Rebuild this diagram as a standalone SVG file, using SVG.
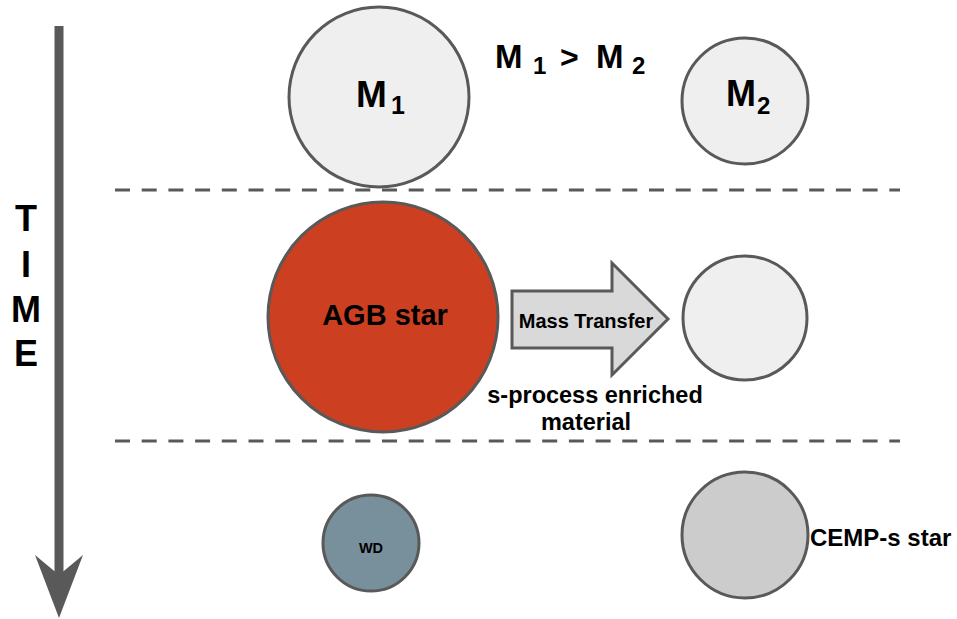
<svg xmlns="http://www.w3.org/2000/svg" width="957" height="619" viewBox="0 0 957 619">
<style>
text{font-family:"Liberation Sans",Arial,sans-serif;font-weight:bold;fill:#000}
.c{stroke:#595959;stroke-width:3}
.dash{stroke:#595959;stroke-width:3;stroke-dasharray:15 11.7;fill:none}
</style>
<rect width="957" height="619" fill="#fff"/>
<g id="time-axis">
<line x1="59" y1="26" x2="59" y2="575" stroke="#595959" stroke-width="9"/>
<path d="M35,555 L59,575 L83,555 L59,618 Z" fill="#595959"/>
<text x="26" y="231" font-size="36" text-anchor="middle">T</text>
<text x="26" y="277" font-size="36" text-anchor="middle">I</text>
<text x="26" y="322" font-size="36" text-anchor="middle">M</text>
<text x="26" y="366" font-size="36" text-anchor="middle">E</text>
</g>
<g id="connectors">
<line class="dash" x1="115" y1="190" x2="900" y2="190"/>
<line class="dash" x1="115" y1="441" x2="900" y2="441"/>
</g>
<g id="m1">
<circle class="c" cx="379" cy="97" r="90" fill="#efefef"/>
<text x="356" y="107" font-size="37">M</text>
<text x="391" y="114" font-size="25">1</text>
</g>
<g id="m2">
<circle class="c" cx="745" cy="101" r="63" fill="#efefef"/>
<text x="726" y="106" font-size="36">M</text>
<text x="757" y="114" font-size="24">2</text>
</g>
<g id="relation">
<text x="495" y="68" font-size="33">M</text>
<text x="533" y="74" font-size="24">1</text>
<text x="560" y="68" font-size="32">&gt;</text>
<text x="596" y="68" font-size="33">M</text>
<text x="632" y="74" font-size="24">2</text>
</g>
<g id="agb">
<circle class="c" cx="383" cy="317" r="115" fill="#cc3f20"/>
<text x="385" y="325" font-size="29" text-anchor="middle">AGB star</text>
</g>
<g id="mass-transfer">
<path class="c" d="M512,291 L612,291 L612,263 L668,319 L612,375 L612,348 L512,348 Z" fill="#d9d9d9"/>
<text x="586" y="328" font-size="20" text-anchor="middle">Mass Transfer</text>
</g>
<g id="label-s-process">
<text x="595" y="403" font-size="23.5" text-anchor="middle">s-process enriched</text>
<text x="586" y="430" font-size="23.5" text-anchor="middle">material</text>
</g>
<g id="companion">
<circle class="c" cx="745" cy="318" r="62" fill="#efefef"/>
</g>
<g id="wd">
<circle class="c" cx="371" cy="543" r="48" fill="#78909c"/>
<text x="371" y="553" font-size="14.5" text-anchor="middle">WD</text>
</g>
<g id="cemp">
<circle class="c" cx="745" cy="535" r="63" fill="#cccccc"/>
<text x="810" y="546" font-size="24">CEMP-s star</text>
</g>
</svg>
